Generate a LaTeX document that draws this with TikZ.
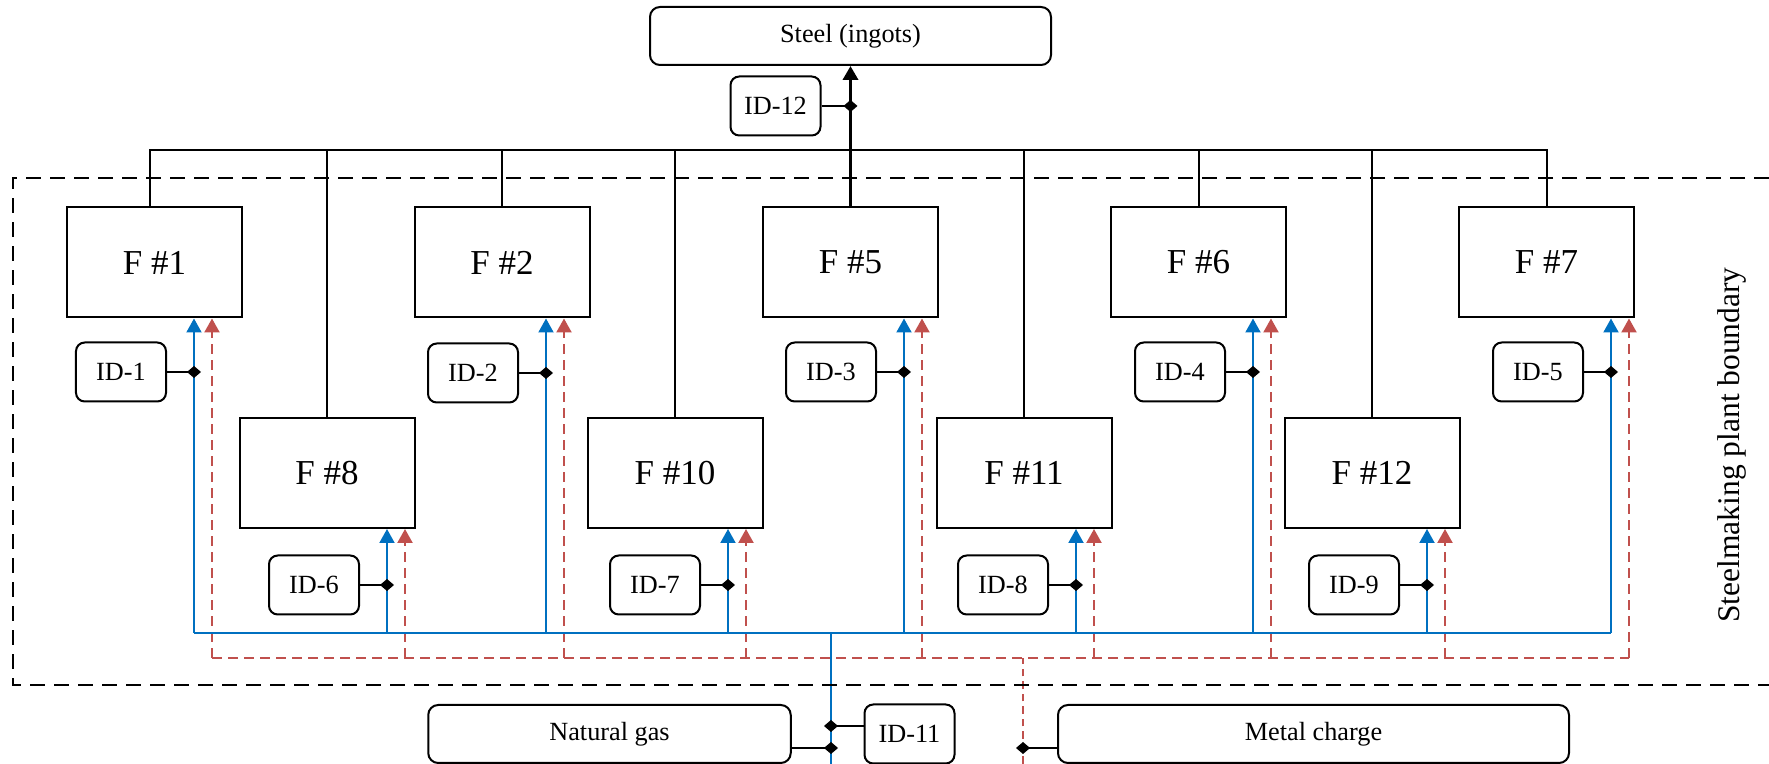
\documentclass[tikz,border=0pt]{standalone}
\usepackage{fontspec}
\setmainfont{Liberation Serif}
\usetikzlibrary{positioning, arrows.meta}

\definecolor{gasblue}{HTML}{0070C0}
\definecolor{chargered}{HTML}{C0504D}

\begin{document}
\begin{tikzpicture}[x=0.4pt, y=-0.4pt,
        furnace/.style={draw, line width=0.8pt, minimum width=70pt, minimum height=44pt, inner sep=0pt, font=\fontsize{14}{16}\selectfont},
        idbox/.style={draw, rounded corners=3.5pt, line width=0.8pt, minimum width=36pt, minimum height=23.6pt, inner sep=0pt, font=\fontsize{10.5}{12}\selectfont},
        flowbox/.style={draw, rounded corners=4pt, line width=0.8pt, minimum height=23.2pt, inner sep=0pt, font=\fontsize{10.5}{12}\selectfont},
        gas/.style={gasblue, line width=0.8pt},
        charge/.style={chargered, line width=0.9pt, dash pattern=on 4pt off 2.4pt},
        feed/.style={-{Triangle[length=5.6pt, width=6pt]}},
        meter/.style={line width=1pt, -{Diamond[length=5.6pt, width=4.8pt]}, shorten >=-2.8pt},
        boundary/.style={line width=0.8pt, dash pattern=on 6pt off 3.6pt}]
    \useasboundingbox (0,0) rectangle (1769,764);

    % outputs and inputs
    \node[flowbox, minimum width=160.4pt] (steel) at (850.5,36) {Steel (ingots)};
    \node[idbox] (id12) at (775.5,106) {ID-12};
    \node[flowbox, minimum width=145pt] (natgas) at (609.5,734) {Natural gas};
    \node[idbox] (id11) at (909.5,734) {ID-11};
    \node[flowbox, minimum width=204.4pt] (metal) at (1313.5,734) {Metal charge};

    % furnaces
    \foreach \n/\x/\y in {1/154.5/262.5, 2/502/262.5, 5/850.5/262.5, 6/1198.5/262.5, 7/1546.5/262.5,
                          8/327/473, 10/675/473, 11/1024/473, 12/1372/473}
        \node[furnace] (f\n) at (\x,\y) {F \#\n};

    % steel collector
    \coordinate (bus) at (0,150);
    \draw[line width=0.8pt] ([xshift=-1.8pt]f1.north) -- ([xshift=-1.8pt]f1.north |- bus) -- (f7.north |- bus) -- (f7.north);
    \foreach \n in {2,6,8,10,11,12}
        \draw[line width=0.8pt] (f\n.north) -- (f\n.north |- bus);
    \draw[line width=1.4pt, feed] (f5.north) -- (f5.north |- steel.south);
    \draw[meter] (id12.east) -- (id12.east -| f5.north);

    % gas and charge feeds with meters
    \foreach \n/\bx/\m/\my in {1/194/1/372, 2/546/2/373, 5/904/3/372, 6/1253/4/372, 7/1611/5/372,
                               8/387/6/585, 10/728/7/585, 11/1076/8/585, 12/1427/9/585} {
        \coordinate (b\n) at (\bx,633);
        \coordinate (r\n) at (\bx+18,658);
        \node[idbox] (id\m) at (\bx-73,\my) {ID-\m};
        \draw[gas, feed] (b\n) -- (b\n |- f\n.south);
        \draw[charge, feed] (r\n) -- (r\n |- f\n.south);
        \draw[meter] (id\m.east) -- (id\m.east -| b\n);
    }
    \draw[gas] (b1) -- (b7);
    \draw[charge] (r1) -- (r7);

    % supply lines
    \coordinate (gasbot) at (831,764);
    \coordinate (chargebot) at (1023,764);
    \draw[gasblue, line width=0.6pt] (gasbot) -- (gasbot |- b1);
    \draw[chargered, line width=0.6pt, dash pattern=on 3pt off 2pt] (chargebot) -- (chargebot |- r1);
    \draw[meter] ([yshift=3.2pt]id11.west) -- ([yshift=3.2pt]id11.west -| gasbot);
    \draw[meter] ([yshift=-5.6pt]natgas.east) -- ([yshift=-5.6pt]natgas.east -| gasbot);
    \draw[meter] ([yshift=-5.6pt]metal.west) -- ([yshift=-5.6pt]metal.west -| chargebot);

    % plant boundary
    \draw[boundary] (1769,178) -| (13,685) -- (1769,685);
    \node[rotate=90, font=\fontsize{12.6}{14}\selectfont] (plant) at (1732,445) {Steelmaking plant boundary};
\end{tikzpicture}
\end{document}
